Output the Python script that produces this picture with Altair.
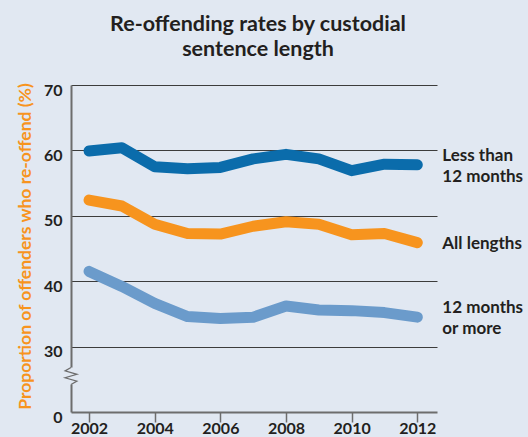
import altair as alt
import pandas as pd

# ---- data ----
years = list(range(2002, 2013))
less_than_12 = [59.9, 60.4, 57.5, 57.2, 57.4, 58.7, 59.4, 58.7, 56.9, 57.9, 57.8]
all_lengths = [52.4, 51.5, 48.7, 47.3, 47.2, 48.4, 49.1, 48.7, 47.1, 47.3, 45.9]
twelve_plus = [41.5, 39.2, 36.6, 34.6, 34.3, 34.5, 36.2, 35.6, 35.5, 35.2, 34.5]
series_names = ["Less than 12 months", "All lengths", "12 months or more"]
series_labels = ["Less than\n12 months", "All lengths", "12 months\nor more"]
series_colors = ["#0b6cab", "#f7941e", "#6b9bcb"]
x_ticks = [2002, 2004, 2006, 2008, 2010, 2012]
y_ticks = [20, 30, 40, 50, 60, 70]  # 20 sits below the axis break and is shown as "0"

bg = "#e1e8f2"
ink = "#231f20"
axis_grey = "#6d6d6d"
x_domain = [2001.45, 2012.6]
y_domain = [20, 70]
break_at = 25.5

rows = []
for name, vals in zip(series_names, [less_than_12, all_lengths, twelve_plus]):
    for yr, v in zip(years, vals):
        rows.append({"year": yr, "rate": v, "series": name})
df = pd.DataFrame(rows)

label_df = df[df["year"] == years[-1]].copy()
label_df["label"] = series_labels
two_line = label_df[label_df["label"].str.contains("\n")]
one_line = label_df[~label_df["label"].str.contains("\n")]

x_scale = alt.Scale(domain=x_domain, nice=False, zero=False)
y_scale = alt.Scale(domain=y_domain, nice=False, zero=False)

x_enc = alt.X(
    "year:Q",
    scale=x_scale,
    axis=alt.Axis(
        values=x_ticks, format="d", grid=False, title=None,
        tickSize=10, tickColor=axis_grey, tickWidth=1.5,
        domainColor=axis_grey, domainWidth=2,
        labelFont="Lato", labelFontWeight="bold", labelFontSize=16,
        labelColor=ink, labelPadding=11, labelBaseline="alphabetic",
        labelFlush=False,
    ),
)
y_enc = alt.Y(
    "rate:Q",
    scale=y_scale,
    axis=alt.Axis(
        values=y_ticks,
        labelExpr="datum.value == 20 ? '0' : datum.label",
        ticks=False, grid=True, gridColor="#3c3c3c", gridWidth=1,
        gridOpacity={"condition": {"test": "datum.value == 20", "value": 0}, "value": 1},
        domainColor=axis_grey, domainWidth=2,
        labelFont="Lato", labelFontWeight="bold", labelFontSize=16,
        labelColor=ink, labelPadding=9, labelBaseline="alphabetic",
        labelOffset=10,
        title="Proportion of offenders who re-offend (%)",
        titleColor="#f7941e", titleFont="Lato", titleFontSize=17.5,
        titleFontWeight="bold", titleX=-41, titleY=161, titleAngle=270,
        titleAlign="center", titleBaseline="alphabetic",
    ),
)

color_enc = alt.Color(
    "series:N",
    scale=alt.Scale(domain=series_names, range=series_colors),
    legend=None,
)

lines = alt.Chart(df).mark_line(
    strokeWidth=11, strokeCap="round", strokeJoin="round"
).encode(x=x_enc, y=y_enc, color=color_enc, detail="series:N")

text_style = dict(
    align="left", baseline="middle", dx=25, lineBreak="\n",
    font="Lato", fontSize=17, fontWeight="bold", color=ink, lineHeight=21,
)
labels_two = alt.Chart(two_line).mark_text(dy=-9, **text_style).encode(
    x="year:Q", y="rate:Q", text="label:N"
)
labels_one = alt.Chart(one_line).mark_text(dy=1, **text_style).encode(
    x="year:Q", y="rate:Q", text="label:N"
)

brk = pd.DataFrame({"year": [x_domain[0]], "rate": [break_at]})
mask = alt.Chart(brk).mark_point(
    shape="M-0.25,-1 L0.25,-1 L0.25,1 L-0.25,1 Z",
    filled=True, fill=bg, strokeWidth=0, size=289, opacity=1,
).encode(x="year:Q", y="rate:Q")
zigzag = alt.Chart(brk).mark_point(
    shape="M0,-1 L-0.7,-0.6 L0.7,-0.2 L-0.7,0.2 L0.7,0.6 L0,1",
    filled=False, stroke=axis_grey, strokeWidth=1.2, size=289, opacity=1,
).encode(x="year:Q", y="rate:Q")

chart = alt.layer(lines, labels_two, labels_one, mask, zigzag).properties(
    width=366,
    height=327,
    autosize="none",
    padding={"left": 71, "top": 85, "right": 91, "bottom": 25},
    background=bg,
    title=alt.TitleParams(
        ["Re-offending rates by custodial", "sentence length"],
        font="Lato", fontSize=21.5, fontWeight="bold", color=ink,
        anchor="middle", frame="group", baseline="alphabetic",
        lineHeight=25, offset=5, dx=4,
    ),
).configure_view(stroke=None)

chart.save("out.html", embed_options={"renderer": "svg", "actions": False})
